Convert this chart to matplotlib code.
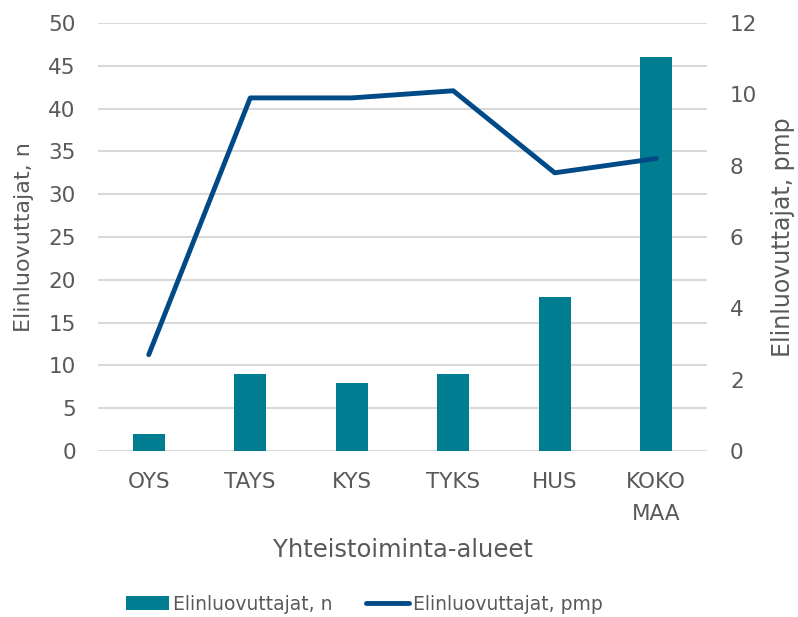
import matplotlib
matplotlib.use("Agg")
import matplotlib.pyplot as plt
from matplotlib.patches import Patch
from matplotlib.lines import Line2D

categories = ["OYS", "TAYS", "KYS", "TYKS", "HUS", "KOKO\nMAA"]
donors_n = [2, 9, 8, 9, 18, 46]
donors_pmp = [2.7, 9.9, 9.9, 10.1, 7.8, 8.2]
left_ticks = [0, 5, 10, 15, 20, 25, 30, 35, 40, 45, 50]
right_ticks = [0, 2, 4, 6, 8, 10, 12]

bar_color = "#007D91"
line_color = "#004A87"
text_color = "#595959"
grid_color = "#D9D9D9"
fs = 15.5

plt.rcParams['font.family'] = ['DejaVu Sans']

fig = plt.figure(figsize=(7.98, 6.17), dpi=100)
ax = fig.add_axes([98/798, 1-451/617, (707-98)/798, (451-23)/617])
x = list(range(len(categories)))
ax.bar(x, donors_n, width=0.315, color=bar_color, zorder=2)
ax.set_ylim(0, 50)
ax.set_xlim(-0.5, len(categories)-0.5)
ax.set_yticks(left_ticks)
ax.set_xticks(x)
ax.set_xticklabels(categories, linespacing=1.75)
ax.grid(axis='y', color=grid_color, linewidth=1.5, zorder=0)
ax.set_axisbelow(True)
for s in ax.spines.values():
    s.set_visible(False)
ax.tick_params(axis='both', length=0, labelsize=fs, labelcolor=text_color)
ax.tick_params(axis='x', pad=15)
ax.tick_params(axis='y', pad=16)
ax.set_ylabel("Elinluovuttajat, n", fontsize=16, color=text_color, labelpad=10)
ax.set_xlabel("Yhteistoiminta-alueet", fontsize=17.5, color=text_color, labelpad=10)

ax2 = ax.twinx()
ax2.plot(x, donors_pmp, color=line_color, linewidth=3.5, solid_capstyle='round', solid_joinstyle='round', zorder=3)
ax2.set_ylim(0, 12)
ax2.set_yticks(right_ticks)
for s in ax2.spines.values():
    s.set_visible(False)
ax2.tick_params(axis='y', length=0, labelsize=fs, labelcolor=text_color, pad=16.5)
ax2.set_ylabel("Elinluovuttajat, pmp", fontsize=17, color=text_color, labelpad=10)

handles = [Patch(facecolor=bar_color, label="Elinluovuttajat, n"),
           Line2D([0], [0], color=line_color, linewidth=3.5, solid_capstyle='round', label="Elinluovuttajat, pmp")]
leg = fig.legend(handles=handles, loc='center left', bbox_to_anchor=(126/798, 1-604/617), ncol=2,
                 frameon=False, fontsize=13.5, labelcolor=text_color, handlelength=2.3,
                 handletextpad=0.2, columnspacing=1.8, borderpad=0, borderaxespad=0)

fig.savefig("out.png", dpi=100)
